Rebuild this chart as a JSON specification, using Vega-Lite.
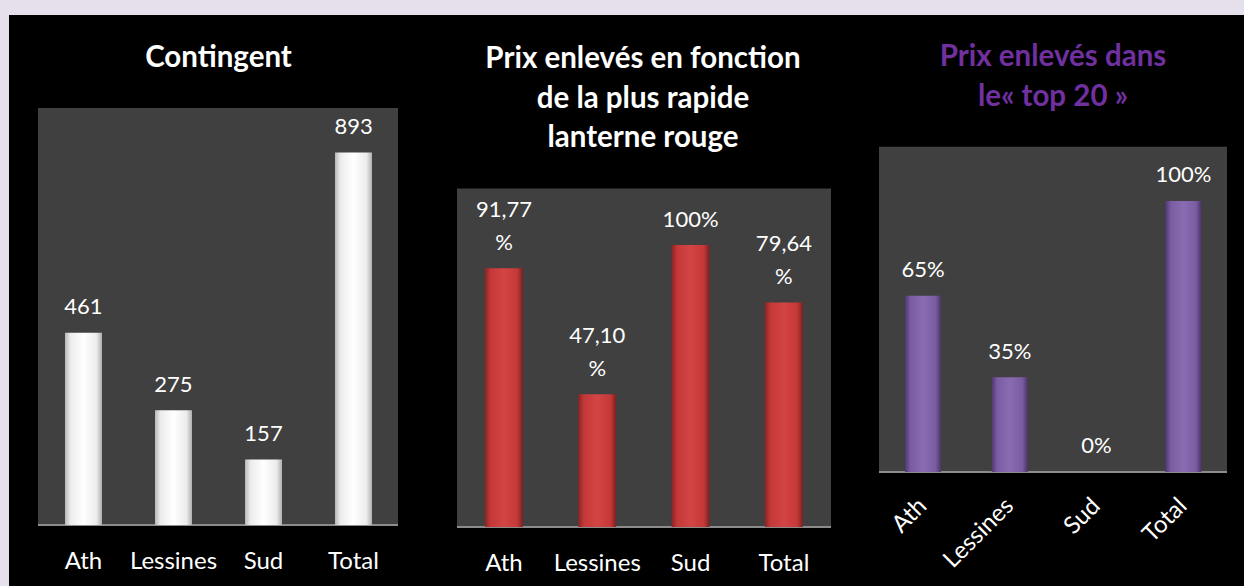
{
  "$schema": "https://vega.github.io/schema/vega-lite/v6.json",
  "background": "#e5e0ec",
  "padding": {"left": 9, "top": 15, "right": 0, "bottom": 0},
  "spacing": 0,
  "config": {
    "view": {"stroke": null},
    "concat": {"spacing": 0},
    "title": {"color": "#ffffff", "font": "Lato", "fontWeight": "bold", "fontSize": 29.5, "anchor": "middle", "frame": "group", "lineHeight": 39.5},
    "axis": {"domain": false, "ticks": false, "grid": false, "title": null, "labelColor": "#ffffff", "labelFont": "Lato", "labelFontSize": 24, "labelAngle": 0, "labelBaseline": "alphabetic", "labelPadding": 43}
  },
  "datasets": {
    "contingent": [
      {"ville": "Ath", "valeur": 461, "ligne1": "", "ligne2": "461"},
      {"ville": "Lessines", "valeur": 275, "ligne1": "", "ligne2": "275"},
      {"ville": "Sud", "valeur": 157, "ligne1": "", "ligne2": "157"},
      {"ville": "Total", "valeur": 893, "ligne1": "", "ligne2": "893"}
    ],
    "lanterne": [
      {"ville": "Ath", "valeur": 91.77, "ligne1": "91,77", "ligne2": "%"},
      {"ville": "Lessines", "valeur": 47.10, "ligne1": "47,10", "ligne2": "%"},
      {"ville": "Sud", "valeur": 100, "ligne1": "", "ligne2": "100%"},
      {"ville": "Total", "valeur": 79.64, "ligne1": "79,64", "ligne2": "%"}
    ],
    "top20": [
      {"ville": "Ath", "valeur": 65, "ligne1": "", "ligne2": "65%"},
      {"ville": "Lessines", "valeur": 35, "ligne1": "", "ligne2": "35%"},
      {"ville": "Sud", "valeur": 0, "ligne1": "", "ligne2": "0%"},
      {"ville": "Total", "valeur": 100, "ligne1": "", "ligne2": "100%"}
    ]
  },
  "hconcat": [
    {
      "width": 419,
      "height": 571,
      "view": {"fill": "#000000", "stroke": null},
      "title": {"text": "Contingent", "offset": -58.5},
      "layer": [
        {
          "data": {"values": [{}]},
          "layer": [
            {
              "mark": {"type": "rect", "color": "#404040"},
              "encoding": {
                "x": {"datum": 0, "type": "quantitative", "scale": {"domain": [-0.08056, 1.08333], "nice": false, "zero": false}, "axis": null},
                "x2": {"datum": 1},
                "y": {"datum": 0, "type": "quantitative", "scale": {"domain": [-146.3, 1223.0], "nice": false, "zero": false}, "axis": null},
                "y2": {"datum": 1000}
              }
            },
            {
              "mark": {"type": "rule", "color": "#8c8c8c", "strokeWidth": 2},
              "encoding": {
                "x": {"datum": 0, "type": "quantitative", "scale": {"domain": [-0.08056, 1.08333], "nice": false, "zero": false}, "axis": null},
                "x2": {"datum": 1},
                "y": {"datum": 0, "type": "quantitative", "scale": {"domain": [-146.3, 1223.0], "nice": false, "zero": false}, "axis": null}
              }
            }
          ]
        },
        {
          "data": {"name": "contingent"},
          "encoding": {
            "x": {"field": "ville", "type": "nominal", "sort": null, "scale": {"paddingInner": 0.589, "paddingOuter": 0.622, "align": 0.5}, "axis": {"offset": -61}},
            "y": {"field": "valeur", "type": "quantitative", "scale": {"domain": [-146.3, 1223.0], "nice": false, "zero": false}, "axis": null}
          },
          "layer": [
            {
              "mark": {"type": "bar", "color": {"gradient": "linear", "x1": 0, "x2": 1, "y1": 0, "y2": 0, "stops": [{"offset": 0, "color": "#b8b8b8"}, {"offset": 0.15, "color": "#ececec"}, {"offset": 0.5, "color": "#ffffff"}, {"offset": 0.85, "color": "#ececec"}, {"offset": 1, "color": "#b0b0b0"}]}}
            },
            {
              "mark": {"type": "text", "color": "#ffffff", "font": "Lato", "fontSize": 22, "baseline": "alphabetic", "dy": -18.5},
              "encoding": {"text": {"field": "ligne2", "type": "nominal"}}
            }
          ]
        }
      ],
      "resolve": {"scale": {"x": "independent"}}
    },
    {
      "width": 420,
      "height": 571,
      "view": {"fill": "#000000", "stroke": null},
      "title": {"text": ["Prix enlevés en fonction", "de la plus rapide", "lanterne rouge"], "offset": -138.5, "dx": 5},
      "layer": [
        {
          "data": {"values": [{}]},
          "layer": [
            {
              "mark": {"type": "rect", "color": "#404040"},
              "encoding": {
                "x": {"datum": 0, "type": "quantitative", "scale": {"domain": [-0.07754, 1.04545], "nice": false, "zero": false}, "axis": null},
                "x2": {"datum": 1},
                "y": {"datum": 0, "type": "quantitative", "scale": {"domain": [-20.92, 181.56], "nice": false, "zero": false}, "axis": null},
                "y2": {"datum": 120}
              }
            },
            {
              "mark": {"type": "rule", "color": "#8c8c8c", "strokeWidth": 2},
              "encoding": {
                "x": {"datum": 0, "type": "quantitative", "scale": {"domain": [-0.07754, 1.04545], "nice": false, "zero": false}, "axis": null},
                "x2": {"datum": 1},
                "y": {"datum": 0, "type": "quantitative", "scale": {"domain": [-20.92, 181.56], "nice": false, "zero": false}, "axis": null}
              }
            }
          ]
        },
        {
          "data": {"name": "lanterne"},
          "encoding": {
            "x": {"field": "ville", "type": "nominal", "sort": null, "scale": {"paddingInner": 0.593, "paddingOuter": 0.547, "align": 0.558}, "axis": {"offset": -59}},
            "y": {"field": "valeur", "type": "quantitative", "scale": {"domain": [-20.92, 181.56], "nice": false, "zero": false}, "axis": null}
          },
          "layer": [
            {
              "mark": {"type": "bar", "color": {"gradient": "linear", "x1": 0, "x2": 1, "y1": 0, "y2": 0, "stops": [{"offset": 0, "color": "#8a2424"}, {"offset": 0.15, "color": "#c43838"}, {"offset": 0.5, "color": "#d44444"}, {"offset": 0.85, "color": "#c43838"}, {"offset": 1, "color": "#7a2020"}]}}
            },
            {
              "mark": {"type": "text", "color": "#ffffff", "font": "Lato", "fontSize": 22, "baseline": "alphabetic", "dy": -51.5},
              "encoding": {"text": {"field": "ligne1", "type": "nominal"}}
            },
            {
              "mark": {"type": "text", "color": "#ffffff", "font": "Lato", "fontSize": 22, "baseline": "alphabetic", "dy": -18.5},
              "encoding": {"text": {"field": "ligne2", "type": "nominal"}}
            }
          ]
        }
      ],
      "resolve": {"scale": {"x": "independent"}}
    },
    {
      "width": 396,
      "height": 571,
      "view": {"fill": "#000000", "stroke": null},
      "title": {"text": ["Prix enlevés dans", "le« top 20 »"], "offset": -97.5, "dx": 7, "color": "#7030a0", "lineHeight": 40},
      "layer": [
        {
          "data": {"values": [{}]},
          "layer": [
            {
              "mark": {"type": "rect", "color": "#404040"},
              "encoding": {
                "x": {"datum": 0, "type": "quantitative", "scale": {"domain": [-0.08908, 1.04885], "nice": false, "zero": false}, "axis": null},
                "x2": {"datum": 1},
                "y": {"datum": 0, "type": "quantitative", "scale": {"domain": [-42.07, 168.63], "nice": false, "zero": false}, "axis": null},
                "y2": {"datum": 120}
              }
            },
            {
              "mark": {"type": "rule", "color": "#8c8c8c", "strokeWidth": 2},
              "encoding": {
                "x": {"datum": 0, "type": "quantitative", "scale": {"domain": [-0.08908, 1.04885], "nice": false, "zero": false}, "axis": null},
                "x2": {"datum": 1},
                "y": {"datum": 0, "type": "quantitative", "scale": {"domain": [-42.07, 168.63], "nice": false, "zero": false}, "axis": null}
              }
            }
          ]
        },
        {
          "data": {"name": "top20"},
          "encoding": {
            "x": {"field": "ville", "type": "nominal", "sort": null, "scale": {"paddingInner": 0.585, "paddingOuter": 0.574, "align": 0.572}, "axis": {"offset": -114, "labelAngle": -45, "labelAlign": "right", "labelBaseline": "middle", "labelPadding": 30}},
            "y": {"field": "valeur", "type": "quantitative", "scale": {"domain": [-42.07, 168.63], "nice": false, "zero": false}, "axis": null}
          },
          "layer": [
            {
              "mark": {"type": "bar", "color": {"gradient": "linear", "x1": 0, "x2": 1, "y1": 0, "y2": 0, "stops": [{"offset": 0, "color": "#4e3870"}, {"offset": 0.15, "color": "#7a5ca2"}, {"offset": 0.5, "color": "#8a6cb2"}, {"offset": 0.85, "color": "#7a5ca2"}, {"offset": 1, "color": "#4a3468"}]}}
            },
            {
              "mark": {"type": "text", "color": "#ffffff", "font": "Lato", "fontSize": 22, "baseline": "alphabetic", "dy": -18.5},
              "encoding": {"text": {"field": "ligne2", "type": "nominal"}}
            }
          ]
        }
      ],
      "resolve": {"scale": {"x": "independent"}}
    }
  ]
}
